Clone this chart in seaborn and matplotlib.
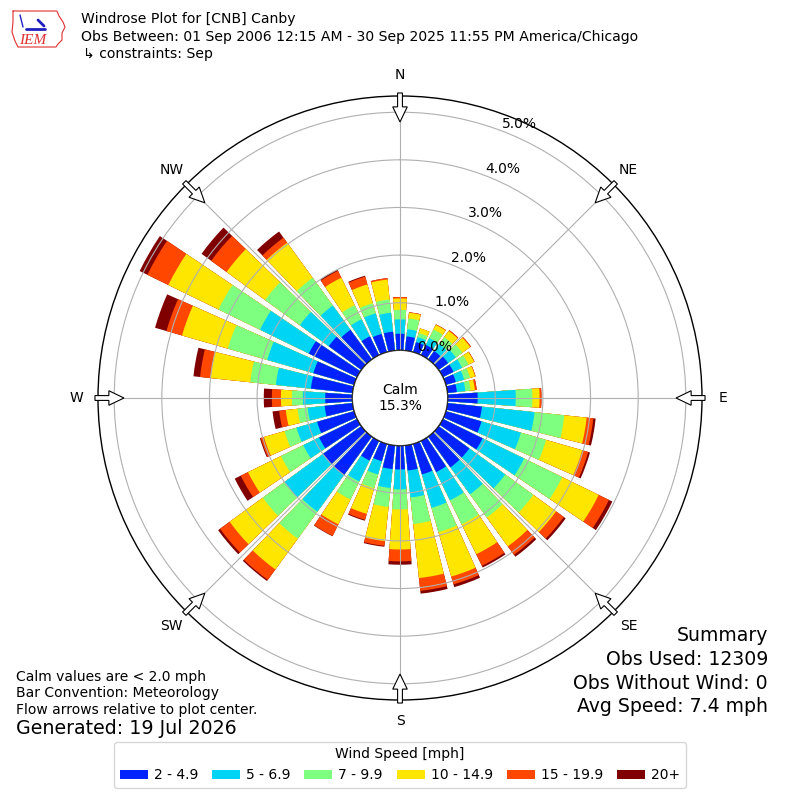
import matplotlib
matplotlib.use("Agg")
import numpy as np
import pandas as pd
import seaborn as sns
import matplotlib.pyplot as plt
from matplotlib.patches import Patch, FancyArrow
from matplotlib.lines import Line2D

# ---------------- data (percent of observations) ----------------
directions = list(range(0, 360, 10))
speed_labels = ["2 - 4.9", "5 - 6.9", "7 - 9.9", "10 - 14.9", "15 - 19.9", "20+"]
speed_colors = ["#0022ff", "#00d4f5", "#7fff7f", "#ffe600", "#ff4700", "#800000"]

s_2_5 = [0.35, 0.30, 0.22, 0.24, 0.22, 0.25, 0.25, 0.22, 0.20, 0.63,
         0.73, 0.78, 0.93, 0.80, 0.80, 0.73, 0.67, 0.53, 0.50, 0.50,
         0.38, 0.46, 1.00, 1.00, 0.89, 0.81, 0.59, 0.57, 0.88, 0.89,
         1.13, 0.85, 0.77, 0.44, 0.40, 0.40]
s_5_7 = [0.30, 0.15, 0.11, 0.16, 0.18, 0.20, 0.20, 0.18, 0.18, 0.80,
         1.11, 0.86, 0.97, 0.93, 0.70, 0.66, 0.73, 0.57, 0.42, 0.40,
         0.29, 0.49, 0.95, 1.00, 0.37, 0.45, 0.36, 0.47, 0.74, 1.01,
         1.14, 0.75, 0.63, 0.40, 0.45, 0.40]
s_7_10 = [0.20, 0.23, 0.09, 0.20, 0.18, 0.17, 0.15, 0.13, 0.11, 0.35,
          0.63, 0.55, 0.89, 0.73, 0.60, 0.56, 0.53, 0.56, 0.42, 0.40,
          0.30, 0.42, 0.70, 0.56, 0.52, 0.26, 0.21, 0.23, 0.54, 0.86,
          0.97, 0.90, 0.72, 0.33, 0.22, 0.28]
s_10_15 = [0.24, 0.12, 0.10, 0.11, 0.16, 0.20, 0.13, 0.11, 0.09, 0.15,
           0.47, 0.79, 0.85, 0.59, 0.75, 0.70, 0.97, 1.14, 0.84, 0.72,
           0.56, 0.58, 0.80, 0.86, 0.77, 0.45, 0.25, 0.23, 0.84, 1.00,
           1.17, 1.00, 0.91, 0.64, 0.41, 0.42]
s_15_20 = [0.03, 0.01, 0.00, 0.01, 0.02, 0.02, 0.01, 0.01, 0.04, 0.04,
           0.14, 0.13, 0.24, 0.20, 0.22, 0.27, 0.17, 0.27, 0.25, 0.10,
           0.13, 0.27, 0.27, 0.25, 0.17, 0.07, 0.14, 0.19, 0.22, 0.34,
           0.49, 0.40, 0.13, 0.16, 0.17, 0.03]
s_20p = [0.00, 0.00, 0.00, 0.00, 0.00, 0.00, 0.00, 0.00, 0.00, 0.00,
         0.05, 0.04, 0.08, 0.05, 0.05, 0.04, 0.06, 0.06, 0.07, 0.02,
         0.02, 0.01, 0.03, 0.05, 0.14, 0.02, 0.14, 0.17, 0.14, 0.25,
         0.18, 0.25, 0.16, 0.03, 0.02, 0.00]

ring_ticks = [0, 1, 2, 3, 4, 5]
compass_labels = ["N", "NE", "E", "SE", "S", "SW", "W", "NW"]
calm_pct = 15.3

# ---------------- figure ----------------
sns.set_style("white")
plt.rcParams["font.family"] = ["DejaVu Sans"]
plt.rcParams["text.color"] = "black"
plt.rcParams["axes.labelcolor"] = "black"
plt.rcParams["xtick.color"] = "black"
plt.rcParams["ytick.color"] = "black"

fig = plt.figure(figsize=(8, 8), dpi=100)
ax = fig.add_axes([0.1225, 0.125, 0.755, 0.755], projection="polar")
ax.set_theta_zero_location("N")
ax.set_theta_direction(-1)

series = np.vstack([s_2_5, s_5_7, s_7_10, s_10_15, s_15_20, s_20p])
cum = np.cumsum(series, axis=0)
theta = np.deg2rad(directions)

for i in reversed(range(len(speed_labels))):
    df = pd.DataFrame({"theta": theta, "pct": cum[i]})
    sns.barplot(data=df, x="theta", y="pct", native_scale=True,
                color=speed_colors[i], saturation=1, errorbar=None,
                width=0.8, linewidth=0, ax=ax)

ax.set_thetalim(0, 2 * np.pi)
ax.set_rorigin(-1.0)
ax.set_ylim(0, 5.34)
ax.set_xlabel("")
ax.set_ylabel("")
ax.set_xticks(np.deg2rad(np.arange(0, 360, 45)))
ax.set_xticklabels([])
ax.set_yticks(ring_ticks)
ax.set_yticklabels([f"{v:.1f}%" for v in ring_ticks], fontsize=10, color="black")
ax.set_rlabel_position(21.0)
ax.grid(True, color="#b0b0b0", linewidth=0.8)
ax.set_axisbelow(False)
ax.spines["polar"].set_color("black")
ax.spines["polar"].set_linewidth(1.0)

# calm circle
tt = np.linspace(0, 2 * np.pi, 361)
ax.plot(tt, np.zeros_like(tt), color="black", linewidth=1.0, zorder=4)
ax.text(0.5, 0.5, f"Calm\n{calm_pct}%", transform=ax.transAxes,
        ha="center", va="center", fontsize=10, zorder=5, color="black")

# compass labels and inward flow arrows
for k, lab in enumerate(compass_labels):
    ang = np.deg2rad(k * 45)
    sx, sy = np.sin(ang), np.cos(ang)
    ax.text(0.5 + 0.535 * sx, 0.5 + 0.535 * sy, lab, transform=ax.transAxes,
            ha="center", va="center", fontsize=10, color="black")
    r0, r1 = 0.505, 0.457
    arr = FancyArrow(0.5 + r0 * sx, 0.5 + r0 * sy, (r1 - r0) * sx, (r1 - r0) * sy,
                     width=0.008, head_width=0.024, head_length=0.025,
                     length_includes_head=True, transform=ax.transAxes,
                     facecolor="white", edgecolor="black", linewidth=0.8,
                     clip_on=False, zorder=6)
    ax.add_artist(arr)

# ---------------- header ----------------
fig.text(0.101, 0.976, "Windrose Plot for [CNB] Canby", fontsize=10.1, va="center")
fig.text(0.101, 0.954, "Obs Between: 01 Sep 2006 12:15 AM - 30 Sep 2025 11:55 PM America/Chicago",
         fontsize=10.1, va="center")
fig.text(0.104, 0.9325, "\u21b3 constraints: Sep", fontsize=10.1, va="center")

# simple IEM logo
iowa_x = [13, 57, 59, 63, 65, 62, 62, 58, 56, 18, 15, 12, 13, 13]
iowa_y = [11, 11, 16, 22, 27, 33, 40, 44, 47, 47, 41, 32, 22, 11]
fig.add_artist(Line2D([x / 800 for x in iowa_x], [1 - y / 800 for y in iowa_y],
                      color="#e03030", linewidth=0.8))
fig.add_artist(Line2D([26 / 800, 45 / 800], [1 - 29 / 800, 1 - 29 / 800], color="#2020c0", linewidth=2))
fig.add_artist(Line2D([38 / 800, 44 / 800], [1 - 20 / 800, 1 - 26 / 800], color="#2020c0", linewidth=2))
fig.add_artist(Line2D([20 / 800, 23 / 800], [1 - 15 / 800, 1 - 27 / 800], color="#2020c0", linewidth=1))
fig.text(0.0405, 1 - 40 / 800, "IEM", fontsize=11, color="#e03030", style="italic",
         family=["Liberation Serif", "DejaVu Serif"], ha="center", va="center")

# ---------------- summary / notes ----------------
summary = ["Summary", "Obs Used: 12309", "Obs Without Wind: 0", "Avg Speed: 7.4 mph"]
for txt, yy in zip(summary, [0.206, 0.176, 0.146, 0.1175]):
    fig.text(0.96, yy, txt, fontsize=13.6, ha="right", va="center")

notes = ["Calm values are < 2.0 mph", "Bar Convention: Meteorology",
         "Flow arrows relative to plot center."]
for txt, yy in zip(notes, [0.154, 0.134, 0.1125]):
    fig.text(0.02, yy, txt, fontsize=10, ha="left", va="center")
fig.text(0.02, 0.089, "Generated: 19 Jul 2026", fontsize=13.7, ha="left", va="center")

# ---------------- legend ----------------
handles = [Patch(facecolor=c, edgecolor="none") for c in speed_colors]
leg = fig.legend(handles, speed_labels, loc="center", bbox_to_anchor=(0.5, 0.044),
                 ncol=6, title="Wind Speed [mph]", fontsize=10, title_fontsize=10,
                 frameon=True, fancybox=True, handlelength=2.0, handleheight=0.7,
                 handletextpad=0.45, columnspacing=1.0, edgecolor="#cccccc")
for t in leg.get_texts():
    t.set_color("black")
leg.get_title().set_color("black")

fig.savefig("out.png", dpi=100)
